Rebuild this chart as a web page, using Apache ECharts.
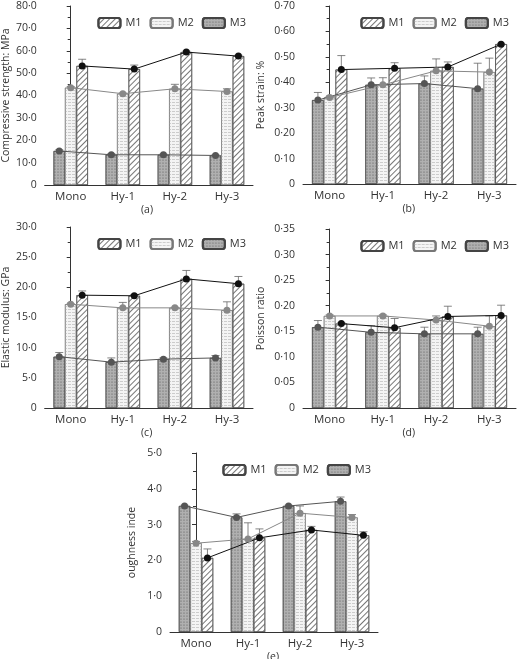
<!DOCTYPE html>
<html><head><meta charset="utf-8">
<script src="https://cdn.jsdelivr.net/npm/echarts@6/dist/echarts.min.js"></script>
<style>html,body{margin:0;background:#fff}#c{width:520px;height:659px}</style>
</head><body><div id="c"></div>
<script>
const categories = ['Mono','Hy-1','Hy-2','Hy-3'];
const seriesNames = ['M1','M2','M3'];
// panel a: compressive strength
const aM1 = [53.2,51.8,59.4,57.6], aM2 = [43.5,40.8,43.0,41.8], aM3 = [15.2,13.5,13.5,13.2];
const aE1 = [3.0,1.8,0.4,0.4], aE2 = [0.5,0.3,2.0,1.2], aE3 = [0.5,0.5,0.3,0.3];
// panel b: peak strain
const bM1 = [0.45,0.455,0.46,0.55], bM2 = [0.34,0.39,0.445,0.44], bM3 = [0.33,0.39,0.395,0.375];
const bE1 = [0.055,0.022,0.02,0.003], bE2 = [0.004,0.028,0.047,0.055], bE3 = [0.03,0.027,0.03,0.1];
// panel c: elastic modulus
const cM1 = [18.7,18.6,21.4,20.6], cM2 = [17.2,16.6,16.6,16.2], cM3 = [8.5,7.6,8.1,8.3];
const cE1 = [0.7,0.2,1.4,1.2], cE2 = [0.1,0.9,0.1,1.4], cE3 = [0.7,0.7,0.2,0.4];
// panel d: Poisson ratio
const dM1 = [0.165,0.157,0.179,0.181], dM2 = [0.18,0.18,0.172,0.16], dM3 = [0.158,0.148,0.145,0.145];
const dE1 = [0.002,0.018,0.02,0.02], dE2 = [0.002,0.002,0.008,0.02], dE3 = [0.013,0.013,0.013,0.013];
// panel e: toughness index
const eM1 = [2.07,2.63,2.85,2.7], eM2 = [2.48,2.6,3.32,3.2], eM3 = [3.52,3.2,3.52,3.65];
const eE1 = [0.25,0.25,0.1,0.1], eE2 = [0.05,0.45,0.2,0.08], eE3 = [0.02,0.1,0.02,0.12];

const panels = [
 {m:[aM1,aM2,aM3], e:[aE1,aE2,aE3], max:80, interval:10, dec:1, name:'Compressive strength: MPa', tag:'(a)', grid:{left:43,top:6,width:210,height:179}},
 {m:[bM1,bM2,bM3], e:[bE1,bE2,bE3], max:0.7, interval:0.1, dec:2, name:'Peak strain: %', tag:'(b)', grid:{left:303,top:6,width:213,height:178}},
 {m:[cM1,cM2,cM3], e:[cE1,cE2,cE3], max:30, interval:5, dec:1, name:'Elastic modulus: GPa', tag:'(c)', grid:{left:43,top:227,width:210,height:181}},
 {m:[dM1,dM2,dM3], e:[dE1,dE2,dE3], max:0.35, interval:0.05, dec:2, name:'Poisson ratio', tag:'(d)', grid:{left:303,top:229,width:213,height:179}},
 {m:[eM1,eM2,eM3], e:[eE1,eE2,eE3], max:5, interval:1, dec:1, name:'oughness inde', tag:'(e)', grid:{left:170,top:453,width:208,height:179}}
];

const styles = {
 M1:{color:'#fff', borderColor:'#444', borderWidth:0.6, decal:{symbol:'rect',color:'#777',dashArrayX:[1,0],dashArrayY:[1,3],rotation:-Math.PI/4}},
 M2:{color:'#f4f4f4', borderColor:'#777', borderWidth:0.6, decal:{symbol:'rect',color:'#ccc',dashArrayX:[[3,1]],dashArrayY:[1,2]}},
 M3:{color:'#b0b0b0', borderColor:'#444', borderWidth:0.6, decal:{symbol:'circle',color:'#555',symbolSize:0.6,dashArrayX:[[2,1]],dashArrayY:[2,1]}}
};
const lineColor = {M1:'#111', M2:'#888', M3:'#555'};
const offset = {M3:-0.22, M2:0, M1:0.22};
const fmt = (dec)=> v => v===0 ? '0' : v.toFixed(dec).replace('.','·');

const opt = {animation:false, grid:[], xAxis:[], yAxis:[], series:[], legend:[], graphic:[]};
panels.forEach((p,gi)=>{
 opt.grid.push(p.grid);
 opt.xAxis.push({type:'category', data:categories, gridIndex:gi, axisTick:{show:false},
   axisLine:{lineStyle:{color:'#333'}}, axisLabel:{color:'#333',fontSize:11.5,fontFamily:'Open Sans',margin:6}});
 opt.xAxis.push({type:'value', gridIndex:gi, min:-0.5, max:3.5, show:false});
 opt.yAxis.push({type:'value', gridIndex:gi, min:0, max:p.max, interval:p.interval, name:p.name,
   nameLocation:'middle', nameGap:p.dec===2?36:32, nameTextStyle:{color:'#333',fontSize:10.5,fontFamily:'Open Sans'},
   splitLine:{show:false}, axisLine:{show:true,lineStyle:{color:'#333'}}, axisTick:{show:true,inside:false,length:4},
   minorTick:{show:true,splitNumber:2,length:3}, axisLabel:{formatter:fmt(p.dec),color:'#333',fontSize:10.5,fontFamily:'Open Sans'}});
 opt.legend.push({data:['M1','M2','M3'], top:p.grid.top+6, right:520-(p.grid.left+p.grid.width)+2,
   itemWidth:22, itemHeight:10, itemGap:8, textStyle:{fontSize:11,color:'#333',fontFamily:'Open Sans'}});
 opt.graphic.push({type:'text', left:p.grid.left+p.grid.width/2-7, top:p.grid.top+p.grid.height+20,
   style:{text:p.tag, fontSize:10.5, fill:'#333', fontFamily:'Open Sans'}});
 const order = ['M3','M2','M1'];
 order.forEach(n=>{
   const k = seriesNames.indexOf(n);
   opt.series.push({type:'bar', name:n, xAxisIndex:gi*2, yAxisIndex:gi, data:p.m[k], barWidth:'22%', barGap:'0%', itemStyle:styles[n], z:2});
 });
 order.forEach(n=>{
   const k = seriesNames.indexOf(n);
   const pts = p.m[k].map((v,i)=>[i+offset[n], v, p.e[k][i]]);
   opt.series.push({type:'custom', xAxisIndex:gi*2+1, yAxisIndex:gi, data:pts, z:3,
     renderItem:(params,api)=>{
       const a = api.coord([api.value(0), api.value(1)]);
       const b = api.coord([api.value(0), api.value(1)+api.value(2)]);
       return {type:'group', children:[
         {type:'line', shape:{x1:a[0],y1:a[1],x2:b[0],y2:b[1]}, style:{stroke:'#666',lineWidth:0.8}},
         {type:'line', shape:{x1:b[0]-4,y1:b[1],x2:b[0]+4,y2:b[1]}, style:{stroke:'#666',lineWidth:0.8}}]};
     }});
   opt.series.push({type:'line', xAxisIndex:gi*2+1, yAxisIndex:gi, data:pts.map(q=>[q[0],q[1]]), z:4,
     symbol:'circle', symbolSize:7, lineStyle:{color:lineColor[n],width:1}, itemStyle:{color:lineColor[n]}});
 });
});
const chart = echarts.init(document.getElementById('c'));
chart.setOption(opt);
</script></body></html>
